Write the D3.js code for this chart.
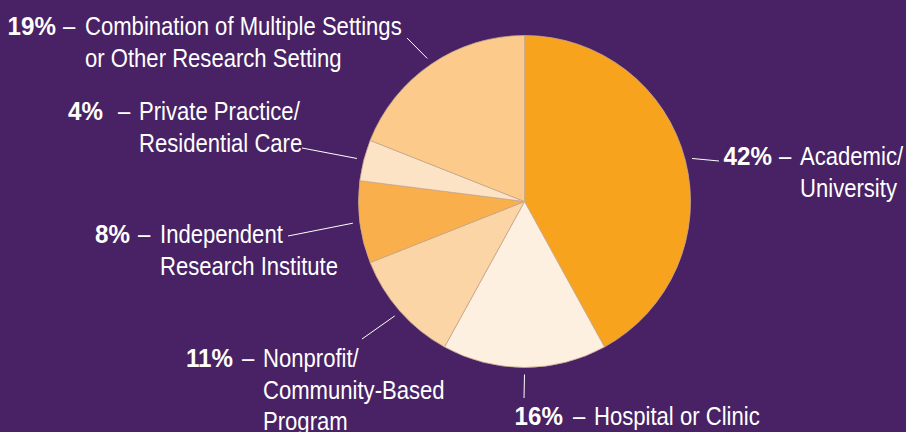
<!DOCTYPE html>
<html>
<head>
<meta charset="utf-8">
<script src="https://cdn.jsdelivr.net/npm/d3@7"></script>
<style>
  html, body { margin: 0; padding: 0; background: #482264; }
  svg { display: block; }
  .label text { fill: #ffffff; font-family: "Liberation Sans", Arial, sans-serif; font-size: 26px; }
  .label .pct { font-weight: bold; }
</style>
</head>
<body>
<div class="pie-chart"></div>
<script>
const categories = ["Academic/University", "Hospital or Clinic", "Nonprofit/Community-Based Program",
  "Independent Research Institute", "Private Practice/Residential Care",
  "Combination of Multiple Settings or Other Research Setting"];
const values = [42, 16, 11, 8, 4, 19];
const labelLines = [
  ["Academic/", "University"],
  ["Hospital or Clinic"],
  ["Nonprofit/", "Community-Based", "Program"],
  ["Independent", "Research Institute"],
  ["Private Practice/", "Residential Care"],
  ["Combination of Multiple Settings", "or Other Research Setting"]
];
const colors = ["#f7a31e", "#fdf0e1", "#fcd5a6", "#f9b04c", "#fde3c6", "#fccb8b"];

// label placement: pct end x, dash x, body x, first baseline y, leader outer end
const labelLayout = [
  { pctX: 772, dashX: 779, x: 800, y: 165, lx: 719, ly: 161 },
  { pctX: 563, dashX: 573, x: 594, y: 425, lx: 524, ly: 398 },
  { pctX: 233, dashX: 242, x: 263, y: 367, lx: 362, ly: 339 },
  { pctX: 130, dashX: 138, x: 160, y: 243, lx: 288, ly: 236 },
  { pctX: 103, dashX: 118, x: 139, y: 120, lx: 302, ly: 148 },
  { pctX: 56, dashX: 63, x: 85, y: 35, lx: 407, ly: 38 }
];

const width = 906, height = 432;
const cx = 524.5, cy = 201.5, radius = 166;
const lineHeight = 31.7;
const squeeze = 0.85; // condensed look
const pctSqueeze = 0.93;

const data = categories.map((c, i) => ({ name: c, value: values[i], lines: labelLines[i], color: colors[i], layout: labelLayout[i] }));

const svg = d3.select(".pie-chart")
  .append("svg")
  .attr("width", width)
  .attr("height", height);

svg.append("rect")
  .attr("width", width)
  .attr("height", height)
  .attr("fill", "#482264");

const pie = d3.pie()
  .sort(null)
  .value(d => d.value);

const arc = d3.arc()
  .innerRadius(0)
  .outerRadius(radius);

const leaderArc = d3.arc()
  .innerRadius(radius + 7)
  .outerRadius(radius + 7);

const g = svg.append("g")
  .attr("transform", "translate(" + cx + "," + cy + ")");

const arcs = pie(data);

g.selectAll("path.slice")
  .data(arcs)
  .enter()
  .append("path")
  .attr("class", "slice")
  .attr("d", arc)
  .attr("fill", d => d.data.color)
  .attr("stroke", "#c9a98c")
  .attr("stroke-width", 0.8);

// leader lines
svg.append("g")
  .selectAll("line")
  .data(arcs)
  .enter()
  .append("line")
  .attr("x1", d => cx + leaderArc.centroid(d)[0])
  .attr("y1", d => cy + leaderArc.centroid(d)[1])
  .attr("x2", d => d.data.layout.lx)
  .attr("y2", d => d.data.layout.ly)
  .attr("stroke", "#ffffff")
  .attr("stroke-width", 1);

const labels = svg.append("g")
  .selectAll("g.label")
  .data(data)
  .enter()
  .append("g")
  .attr("class", "label");

const place = (x, y, s) => "translate(" + x + "," + y + ") scale(" + (s || squeeze) + ",1)";

labels.append("text")
  .attr("class", "pct")
  .attr("transform", d => place(d.layout.pctX, d.layout.y, pctSqueeze))
  .attr("text-anchor", "end")
  .text(d => d.value + "%");

labels.append("text")
  .attr("transform", d => place(d.layout.dashX, d.layout.y))
  .text("\u2013");

labels.each(function (d) {
  const sel = d3.select(this);
  d.lines.forEach((line, i) => {
    sel.append("text")
      .attr("transform", place(d.layout.x, d.layout.y + i * lineHeight))
      .text(line);
  });
});
</script>
</body>
</html>
